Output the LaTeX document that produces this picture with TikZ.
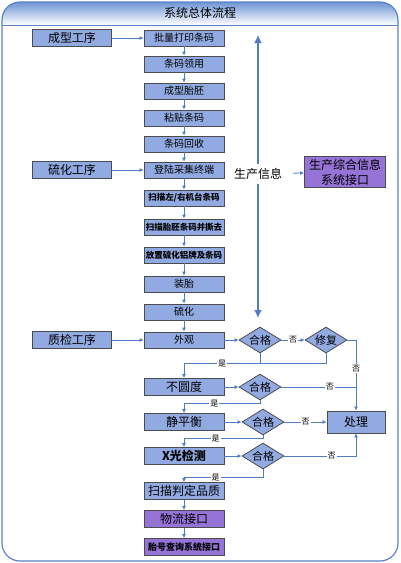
\documentclass[tikz,border=0pt]{standalone}
\usepackage{fontspec}
\setmainfont{Noto Sans CJK SC}
\usetikzlibrary{shapes.geometric,arrows.meta}
\definecolor{bleuboite}{RGB}{146,170,226}
\definecolor{violetboite}{RGB}{150,115,215}
\definecolor{bleutrait}{RGB}{79,125,196}
\definecolor{bleucadre}{RGB}{90,130,200}
\definecolor{bleuentete}{RGB}{110,148,212}
\begin{document}
\begin{tikzpicture}[x=1pt, y=-1pt,
block1/.style={rectangle, draw=black!70, fill=bleuboite, line width=0.8pt, minimum width=80pt, minimum height=16pt, inner sep=0pt, font=\fontsize{10}{12}\selectfont},
block1b/.style={block1, font=\bfseries\fontsize{8.5}{10}\selectfont},
block2/.style={block1, minimum height=17pt, font=\fontsize{12}{14}\selectfont},
block3/.style={block2, fill=violetboite},
decision/.style={diamond, draw=black!70, fill=bleuboite, line width=0.8pt, minimum width=42pt, minimum height=26pt, inner sep=0pt, shape aspect=1.6, font=\fontsize{11}{12}\selectfont},
fleche/.style={draw=bleutrait, line width=0.8pt, -{Latex[length=4pt,width=4pt]}},
trait/.style={draw=bleutrait, line width=0.8pt},
etiq/.style={fill=white, inner sep=1pt, font=\fontsize{8}{9}\selectfont},
]
    \useasboundingbox (0,0) rectangle (400,563);

    % Cadre et titre
    \begin{scope}
        \clip[rounded corners=18pt] (2,2) rectangle (398,561);
        \shade[top color=bleuentete, bottom color=white] (2,2) rectangle (398,25);
    \end{scope}
    \draw[bleucadre, line width=1.2pt, rounded corners=18pt] (2,2) rectangle (398,561);
    \draw[bleucadre, line width=0.8pt] (2,25) -- (398,25);
    \node[font=\fontsize{12}{14}\selectfont] (titre) at (200,13) {系统总体流程};

    % Définition des blocs
    \node [block1] (piliang) at (184,38) {批量打印条码};
    \node [block1, below of=piliang, node distance=26pt] (lingyong) {条码领用};
    \node [block1, below of=lingyong, node distance=27pt] (taipei) {成型胎胚};
    \node [block1, below of=taipei, node distance=27pt] (zhantie) {粘贴条码};
    \node [block1, below of=zhantie, node distance=26pt] (huishou) {条码回收};
    \node [block1, below of=huishou, node distance=26pt] (denglu) {登陆采集终端};
    \node [block1b, below of=denglu, node distance=28pt] (saomiaoa) {扫描左/右机台条码};
    \node [block1b, below of=saomiaoa, node distance=29pt] (saomiaob) {扫描胎胚条码并撕去};
    \node [block1b, below of=saomiaob, node distance=28pt] (fangzhi) {放置硫化铝牌及条码};
    \node [block1, below of=fangzhi, node distance=29pt] (zhuangtai) {装胎};
    \node [block1, below of=zhuangtai, node distance=28pt] (liuhua) {硫化};
    \node [block1, below of=liuhua, node distance=28pt] (waiguan) {外观};
    \node [block2, below of=waiguan, node distance=47pt] (buyuan) {不圆度};
    \node [block2, below of=buyuan, node distance=35pt] (jingph) {静平衡};
    \node [block2, below of=jingph, node distance=34pt, font=\bfseries\fontsize{12}{14}\selectfont] (xguang) {X光检测};
    \node [block2, below of=xguang, node distance=35pt] (pinzhi) {扫描判定品质};
    \node [block3, below of=pinzhi, node distance=28pt] (wuliu) {物流接口};
    \node [block3, below of=wuliu, node distance=28pt, font=\bfseries\fontsize{9}{10}\selectfont] (chaxun) {胎号查询系统接口};

    \node [block2, minimum width=79pt, left of=piliang, node distance=112pt] (chengxing) {成型工序};
    \node [block2, minimum width=79pt, left of=denglu, node distance=112pt] (liuhuagx) {硫化工序};
    \node [block2, minimum width=79pt, left of=waiguan, node distance=112pt] (zhijian) {质检工序};

    \node [decision, right of=waiguan, node distance=76pt] (hegea) {合格};
    \node [decision, right of=hegea, node distance=66pt] (xiufu) {修复};
    \node [decision, right of=buyuan, node distance=76pt] (hegeb) {合格};
    \node [decision, right of=jingph, node distance=79pt] (hegec) {合格};
    \node [decision, right of=xguang, node distance=79pt] (heged) {合格};
    \node [block2, minimum width=58pt, minimum height=22pt, right of=hegec, node distance=93pt] (chuli) {处理};

    \coordinate (infohaut) at (258,35);
    \coordinate (infobas) at (258,318);
    \draw [bleutrait, line width=2pt, {Latex[length=8pt,width=8pt]}-{Latex[length=8pt,width=8pt]}] (infohaut) -- (infobas);
    \node [fill=white, inner sep=4pt, font=\fontsize{12}{14}\selectfont] (xinxi) at (258,174) {生产信息};
    \node [block3, minimum width=81pt, minimum height=31pt, align=center, font=\fontsize{12}{15}\selectfont] (jiekou) at (345,172) {生产综合信息\\系统接口};

    % Définition des liens
    \draw [fleche] (chengxing) -- (piliang);
    \draw [fleche] (liuhuagx) -- (denglu);
    \draw [fleche] (zhijian) -- (waiguan);
    \draw [fleche] (piliang) -- (lingyong);
    \draw [fleche] (lingyong) -- (taipei);
    \draw [fleche] (taipei) -- (zhantie);
    \draw [fleche] (zhantie) -- (huishou);
    \draw [fleche] (huishou) -- (denglu);
    \draw [fleche] (denglu) -- (saomiaoa);
    \draw [fleche] (saomiaoa) -- (saomiaob);
    \draw [fleche] (saomiaob) -- (fangzhi);
    \draw [fleche] (fangzhi) -- (zhuangtai);
    \draw [fleche] (zhuangtai) -- (liuhua);
    \draw [fleche] (liuhua) -- (waiguan);
    \draw [fleche] (pinzhi) -- (wuliu);
    \draw [fleche] (wuliu) -- (chaxun);
    \draw [fleche, shorten <=7pt] (xinxi) -- (jiekou);

    \draw [fleche] (waiguan) -- (hegea);
    \draw [fleche] (hegea) -- node[etiq] {否} (xiufu);
    \draw [fleche] (hegea.south) -- ++(0,10) -| node[etiq, pos=0.25] {是} (buyuan.north);
    \draw [trait] (xiufu.south) -- ++(0,10) -- ++(-66,0);
    \draw [fleche] (xiufu.east) -| node[etiq, pos=0.7] {否} (chuli.north);

    \draw [fleche] (buyuan) -- (hegeb);
    \draw [trait] (hegeb.east) -- node[etiq, pos=0.65] {否} (chuli.north |- hegeb.east);
    \draw [fleche] (hegeb.south) -- ++(0,3) -| node[etiq, pos=0.3] {是} (jingph.north);

    \draw [fleche] (jingph) -- (hegec);
    \draw [fleche] (hegec) -- node[etiq] {否} (chuli);
    \draw [fleche] (hegec.south) -- ++(0,3) -| node[etiq, pos=0.3] {是} (xguang.north);

    \draw [fleche] (xguang) -- (heged);
    \draw [fleche] (heged.east) -| node[etiq, pos=0.33] {否} (chuli.south);
    \draw [fleche] (heged.south) -- ++(0,8) -| node[etiq, pos=0.3] {是} (pinzhi.north);
\end{tikzpicture}
\end{document}
